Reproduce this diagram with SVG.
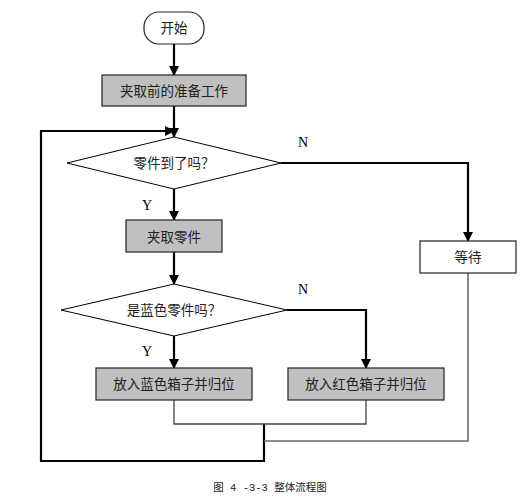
<svg xmlns="http://www.w3.org/2000/svg" width="530" height="499" viewBox="0 0 530 499">
<defs>
<marker id="ah" markerWidth="10" markerHeight="10" refX="9" refY="5" orient="auto" markerUnits="userSpaceOnUse">
<path d="M0,0 L10,5 L0,10 Z" fill="#000"/>
</marker>
<style>
.t{font-family:"Liberation Serif","Noto Sans CJK SC",serif;font-size:13.5px;fill:#222;text-anchor:middle;dominant-baseline:central}
.lab{font-family:"Liberation Serif",serif;font-size:14px;fill:#000;text-anchor:middle;dominant-baseline:central}
.box{fill:#c0c0c0;stroke:#222;stroke-width:1.2}
.wbox{fill:#fff;stroke:#222;stroke-width:1.2}
.dia{fill:#fff;stroke:#000;stroke-width:1}
.thick{fill:none;stroke:#000;stroke-width:2.2}
.thin{fill:none;stroke:#444;stroke-width:1.3}
.gray{fill:none;stroke:#6a6a6a;stroke-width:1.6}
</style>
</defs>
<rect width="530" height="499" fill="#fff"/>
<g id="connectors">
<line class="thick" x1="174" y1="44" x2="174" y2="75" marker-end="url(#ah)"/>
<line class="thick" x1="174" y1="106" x2="174" y2="137" marker-end="url(#ah)"/>
<polyline class="thick" points="264,424 264,461 41,461 41,131 174,131" marker-end="url(#ah)"/>
<polyline class="thick" points="281,163 468,163 468,241" marker-end="url(#ah)"/>
<line class="thick" x1="174" y1="189" x2="174" y2="220" marker-end="url(#ah)"/>
<line class="thick" x1="174" y1="252" x2="174" y2="284" marker-end="url(#ah)"/>
<line class="thick" x1="174" y1="336" x2="174" y2="368" marker-end="url(#ah)"/>
<polyline class="thick" points="287,310 366,310 366,368" marker-end="url(#ah)"/>
<polyline class="thin" points="174,400 174,424 366,424 366,400"/>
<polyline class="gray" points="468,273 468,441 264,441"/>
<text class="lab" x="303" y="142">N</text>
<text class="lab" x="147" y="205">Y</text>
<text class="lab" x="303" y="289">N</text>
<text class="lab" x="147" y="351">Y</text>
</g>
<g id="start">
<rect x="144" y="12" width="60" height="32" rx="15" ry="15" fill="#fff" stroke="#222" stroke-width="1.2"/>
<text class="t" x="174" y="28">开始</text>
</g>
<g id="prep">
<rect class="box" x="102" y="75" width="144" height="31"/>
<text class="t" x="174" y="91">夹取前的准备工作</text>
</g>
<g id="arrived">
<polygon class="dia" points="174,137 281,163 174,189 67,163"/>
<text class="t" x="174" y="163">零件到了吗？</text>
</g>
<g id="wait">
<rect class="wbox" x="420" y="241" width="96" height="32"/>
<text class="t" x="468" y="257">等待</text>
</g>
<g id="grab">
<rect class="box" x="126" y="220" width="96" height="32"/>
<text class="t" x="174" y="237">夹取零件</text>
</g>
<g id="isblue">
<polygon class="dia" points="174,284 287,310 174,336 61,310"/>
<text class="t" x="174" y="310">是蓝色零件吗？</text>
</g>
<g id="blue">
<rect class="box" x="96" y="368" width="156" height="32"/>
<text class="t" x="174" y="384">放入蓝色箱子并归位</text>
</g>
<g id="red">
<rect class="box" x="288" y="368" width="156" height="32"/>
<text class="t" x="366" y="384">放入红色箱子并归位</text>
</g>
<text x="270" y="488" font-family="'Liberation Mono','Noto Sans CJK SC',monospace" font-size="10.5" fill="#222" text-anchor="middle" dominant-baseline="central">图 4 -3-3 整体流程图</text>
</svg>
